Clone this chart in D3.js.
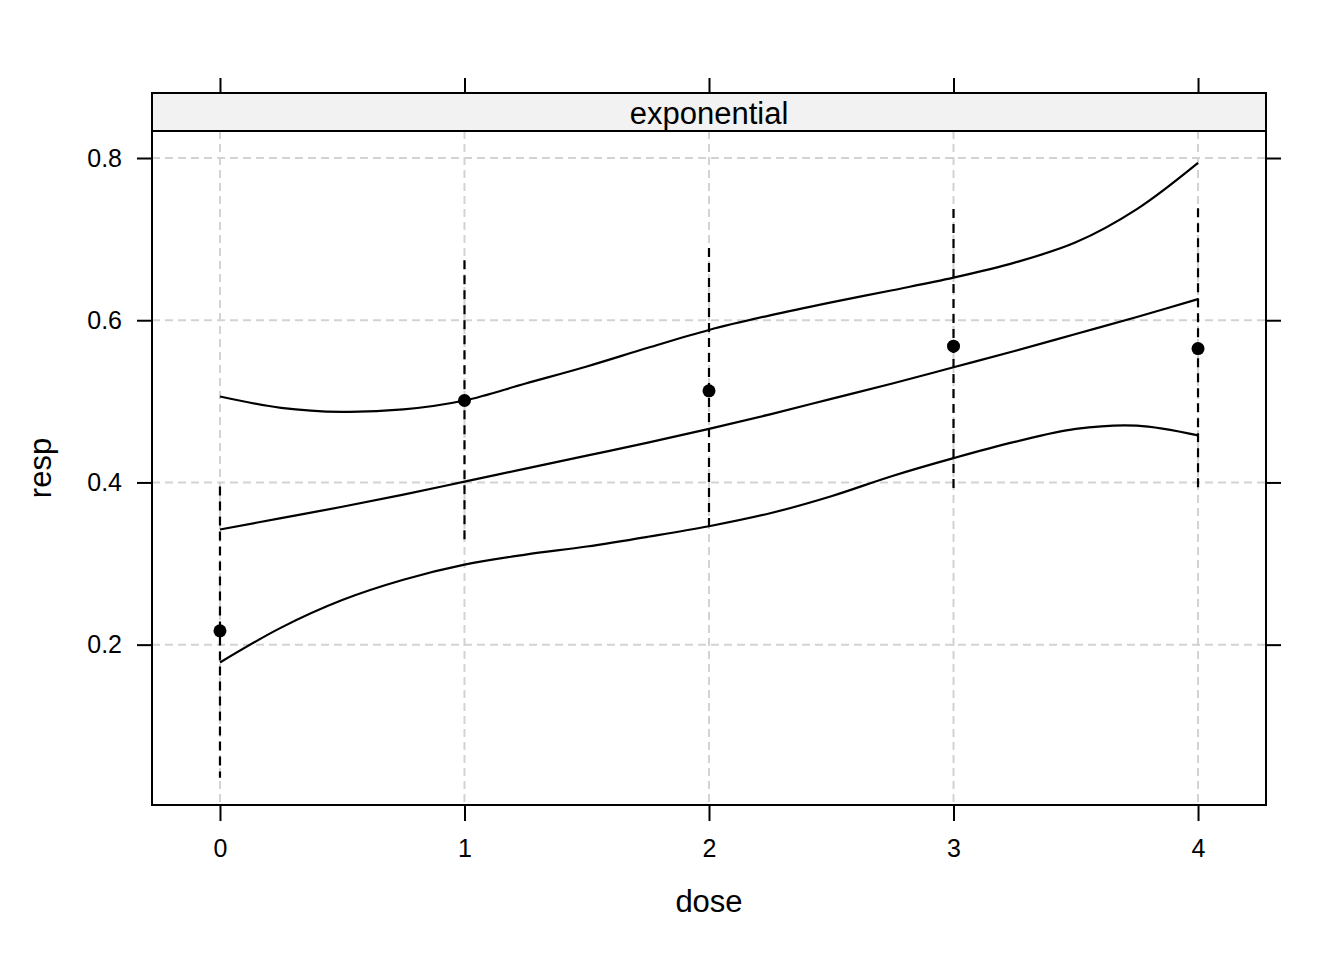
<!DOCTYPE html>
<html lang="en">
<head>
	<meta charset="UTF-8">
	<title>exponential</title>
	<script src="https://cdn.jsdelivr.net/npm/d3@7"></script>
	<style>
	body { margin: 0; background: #fff; }
	text { font-family: "Liberation Sans", Arial, sans-serif; fill: #000; }
	.grid line { stroke: #d3d3d3; stroke-width: 2px; stroke-dasharray: 8,5; }
	.curve { fill: none; stroke: #000; stroke-width: 2.2px; }
	.bar { stroke: #000; stroke-width: 2.2px; stroke-dasharray: 9,6; }
	.axis path { display: none; }
	.axis line { stroke: #000; stroke-width: 2px; }
	</style>
</head>
<body>
<svg id="svg" width="1344" height="960"></svg>
<script>
// observed data
var dose = [0, 1, 2, 3, 4],
	resp = [0.217, 0.501, 0.513, 0.568, 0.565],
	barLo = [0.036, 0.329, 0.338, 0.392, 0.390],
	barHi = [0.395, 0.674, 0.689, 0.737, 0.738];

var grid = [0, 0.25, 0.5, 0.75, 1, 1.25, 1.5, 1.75, 2, 2.25, 2.5, 2.75, 3, 3.25, 3.5, 3.75, 4],
	fit   = [0.342, 0.356, 0.370, 0.385, 0.401, 0.417, 0.433, 0.449, 0.466, 0.484, 0.503, 0.522, 0.542, 0.562, 0.583, 0.604, 0.626],
	upper = [0.506, 0.492, 0.487, 0.490, 0.501, 0.522, 0.543, 0.566, 0.588, 0.606, 0.622, 0.637, 0.6525, 0.671, 0.696, 0.737, 0.794],
	lower = [0.178, 0.221, 0.255, 0.280, 0.2986, 0.311, 0.321, 0.333, 0.346, 0.362, 0.383, 0.408, 0.430, 0.450, 0.466, 0.470, 0.458];

var xTicks = [0, 1, 2, 3, 4],
	yTicks = [0.2, 0.4, 0.6, 0.8],
	stripLabel = 'exponential';

var pLeft = 152, pRight = 1266, stripTop = 93, pTop = 131, pBottom = 805;

var svg = d3.select('#svg');

var x = d3.scaleLinear().domain([-0.278, 4.278]).range([pLeft, pRight]),
	y = d3.scaleLinear().domain([0.0023, 0.8333]).range([pBottom, pTop]);

// grid
var g = svg.append('g').attr('class', 'grid');
g.selectAll('line.v').data(xTicks).enter().append('line')
	.attr('x1', d => x(d)).attr('x2', d => x(d))
	.attr('y1', pTop).attr('y2', pBottom);
g.selectAll('line.h').data(yTicks).enter().append('line')
	.attr('x1', pLeft).attr('x2', pRight)
	.attr('y1', d => y(d)).attr('y2', d => y(d));

// error bars
svg.append('g').selectAll('line').data(dose).enter().append('line')
	.attr('class', 'bar')
	.attr('x1', d => x(d)).attr('x2', d => x(d))
	.attr('y1', (d, i) => y(barHi[i])).attr('y2', (d, i) => y(barLo[i]));

// curves
var line = d3.line()
	.x((d, i) => x(grid[i]))
	.y(d => y(d))
	.curve(d3.curveCatmullRom);

[upper, fit, lower].forEach(function (s) {
	svg.append('path').attr('class', 'curve').attr('d', line(s));
});

// points
svg.append('g').selectAll('circle').data(dose).enter().append('circle')
	.attr('cx', d => x(d)).attr('cy', (d, i) => y(resp[i]))
	.attr('r', 6.5).attr('fill', '#000');

// strip
svg.append('rect')
	.attr('x', pLeft).attr('y', stripTop)
	.attr('width', pRight - pLeft).attr('height', pTop - stripTop)
	.attr('fill', '#f2f2f2').attr('stroke', '#000').attr('stroke-width', 2);
svg.append('text')
	.attr('x', (pLeft + pRight) / 2).attr('y', 124)
	.attr('text-anchor', 'middle').attr('font-size', 31)
	.text(stripLabel);

// panel border
svg.append('rect')
	.attr('x', pLeft).attr('y', pTop)
	.attr('width', pRight - pLeft).attr('height', pBottom - pTop)
	.attr('fill', 'none').attr('stroke', '#000').attr('stroke-width', 2);

// axes
var ax = svg.append('g').attr('class', 'axis').attr('transform', 'translate(0,' + pBottom + ')')
	.call(d3.axisBottom(x).tickValues(xTicks).tickSize(16).tickPadding(18).tickFormat(d3.format('d')));

var ay = svg.append('g').attr('class', 'axis').attr('transform', 'translate(' + pLeft + ',0)')
	.call(d3.axisLeft(y).tickValues(yTicks).tickSize(15).tickPadding(15).tickFormat(d3.format('.1f')));

svg.append('g').attr('class', 'axis').attr('transform', 'translate(0,' + stripTop + ')')
	.call(d3.axisTop(x).tickValues(xTicks).tickSize(15).tickFormat(''));
svg.append('g').attr('class', 'axis').attr('transform', 'translate(' + pRight + ',0)')
	.call(d3.axisRight(y).tickValues(yTicks).tickSize(15).tickFormat(''));

svg.selectAll('.axis').attr('font-family', null).attr('font-size', null);
svg.selectAll('.axis text').attr('fill', '#000').attr('font-size', 25);

// axis titles
svg.append('text')
	.attr('x', x(2)).attr('y', 912)
	.attr('text-anchor', 'middle').attr('font-size', 31)
	.text('dose');
svg.append('text')
	.attr('transform', 'translate(51,468) rotate(-90)')
	.attr('text-anchor', 'middle').attr('font-size', 31)
	.text('resp');
</script>
</body>
</html>
